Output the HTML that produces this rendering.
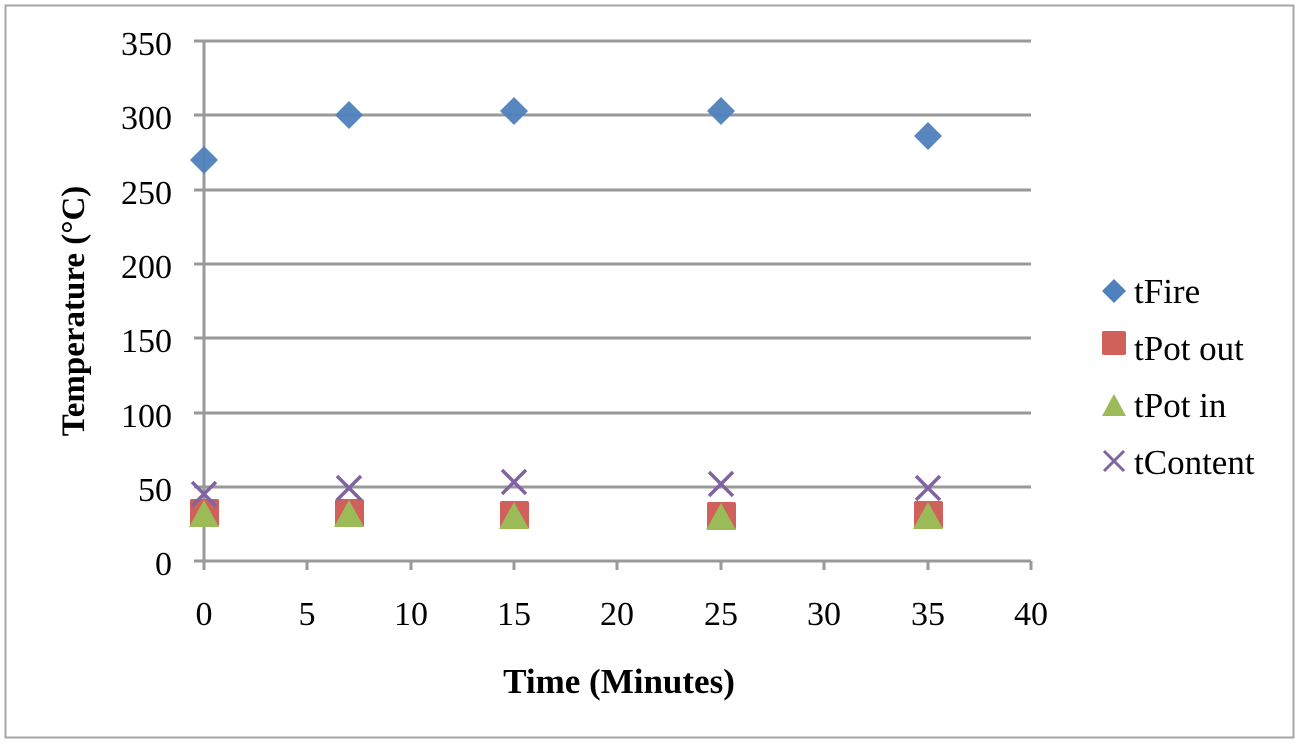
<!DOCTYPE html><html><head><style>body{margin:0;background:#fff}svg{display:block}</style></head><body>
<svg width="1300" height="744" xmlns="http://www.w3.org/2000/svg" font-family="Liberation Serif, serif">
<rect x="5.5" y="5.5" width="1288" height="732" fill="#fff" stroke="#a6a6a6" stroke-width="2"/>
<g stroke="#999" stroke-width="3">
<line x1="194" y1="41" x2="1031" y2="41"/><line x1="194" y1="115" x2="1031" y2="115"/><line x1="194" y1="190" x2="1031" y2="190"/><line x1="194" y1="264" x2="1031" y2="264"/><line x1="194" y1="338" x2="1031" y2="338"/><line x1="194" y1="413" x2="1031" y2="413"/><line x1="194" y1="487" x2="1031" y2="487"/><line x1="194" y1="561" x2="1031" y2="561"/>
<line x1="204" y1="41" x2="204" y2="570"/>
<line x1="307" y1="561" x2="307" y2="570"/><line x1="411" y1="561" x2="411" y2="570"/><line x1="514" y1="561" x2="514" y2="570"/><line x1="617" y1="561" x2="617" y2="570"/><line x1="721" y1="561" x2="721" y2="570"/><line x1="824" y1="561" x2="824" y2="570"/><line x1="928" y1="561" x2="928" y2="570"/><line x1="1031" y1="561" x2="1031" y2="570"/>
</g>
<g font-size="34" text-anchor="end">
<text x="172" y="55">350</text><text x="172" y="129">300</text><text x="172" y="204">250</text><text x="172" y="278">200</text><text x="172" y="352">150</text><text x="172" y="427">100</text><text x="172" y="501">50</text><text x="172" y="575">0</text>
</g>
<g font-size="34" text-anchor="middle">
<text x="204" y="625">0</text><text x="307" y="625">5</text><text x="411" y="625">10</text><text x="514" y="625">15</text><text x="617" y="625">20</text><text x="721" y="625">25</text><text x="824" y="625">30</text><text x="928" y="625">35</text><text x="1031" y="625">40</text>
</g>
<text x="619" y="693" font-size="35" font-weight="bold" text-anchor="middle">Time (Minutes)</text>
<text transform="translate(84,311) rotate(-90)" font-size="33" font-weight="bold" text-anchor="middle">Temperature (°C)</text>
<g fill="#4f81bd" opacity="0.95">
<path d="M204,146 l14,14 -14,14 -14,-14z"/><path d="M349,101 l14,14 -14,14 -14,-14z"/><path d="M514,97 l14,14 -14,14 -14,-14z"/><path d="M721,97 l14,14 -14,14 -14,-14z"/><path d="M928,122 l14,14 -14,14 -14,-14z"/>
</g>
<g fill="#d0605a">
<rect x="190" y="499" width="29" height="28" rx="2"/><rect x="335" y="499" width="29" height="28" rx="2"/><rect x="500" y="501" width="29" height="28" rx="2"/><rect x="707" y="502" width="29" height="28" rx="2"/><rect x="914" y="501" width="29" height="28" rx="2"/>
</g>
<g fill="#9bbb59">
<path d="M204,500 l15,27 h-30z"/><path d="M349,500 l15,27 h-30z"/><path d="M514,502 l15,27 h-30z"/><path d="M721,503 l15,27 h-30z"/><path d="M928,502 l15,27 h-30z"/>
</g>
<g stroke="#8064a2" stroke-width="3.5">
<path d="M192,482 l24,24 M216,482 l-24,24"/><path d="M337,476 l24,24 M361,476 l-24,24"/><path d="M502,470 l24,24 M526,470 l-24,24"/><path d="M709,472 l24,24 M733,472 l-24,24"/><path d="M916,476 l24,24 M940,476 l-24,24"/>
</g>
<path d="M1114,279 l12,12 -12,12 -12,-12z" fill="#4f81bd"/>
<rect x="1102" y="331" width="24" height="24" rx="2" fill="#d0605a"/>
<path d="M1114,394 l12,22 h-24z" fill="#9bbb59"/>
<path d="M1104,451 l20,20 M1124,451 l-20,20" stroke="#8064a2" stroke-width="3"/>
<g font-size="35">
<text x="1134" y="303">tFire</text><text x="1134" y="360">tPot out</text><text x="1134" y="417">tPot in</text><text x="1134" y="474">tContent</text>
</g>
</svg></body></html>
